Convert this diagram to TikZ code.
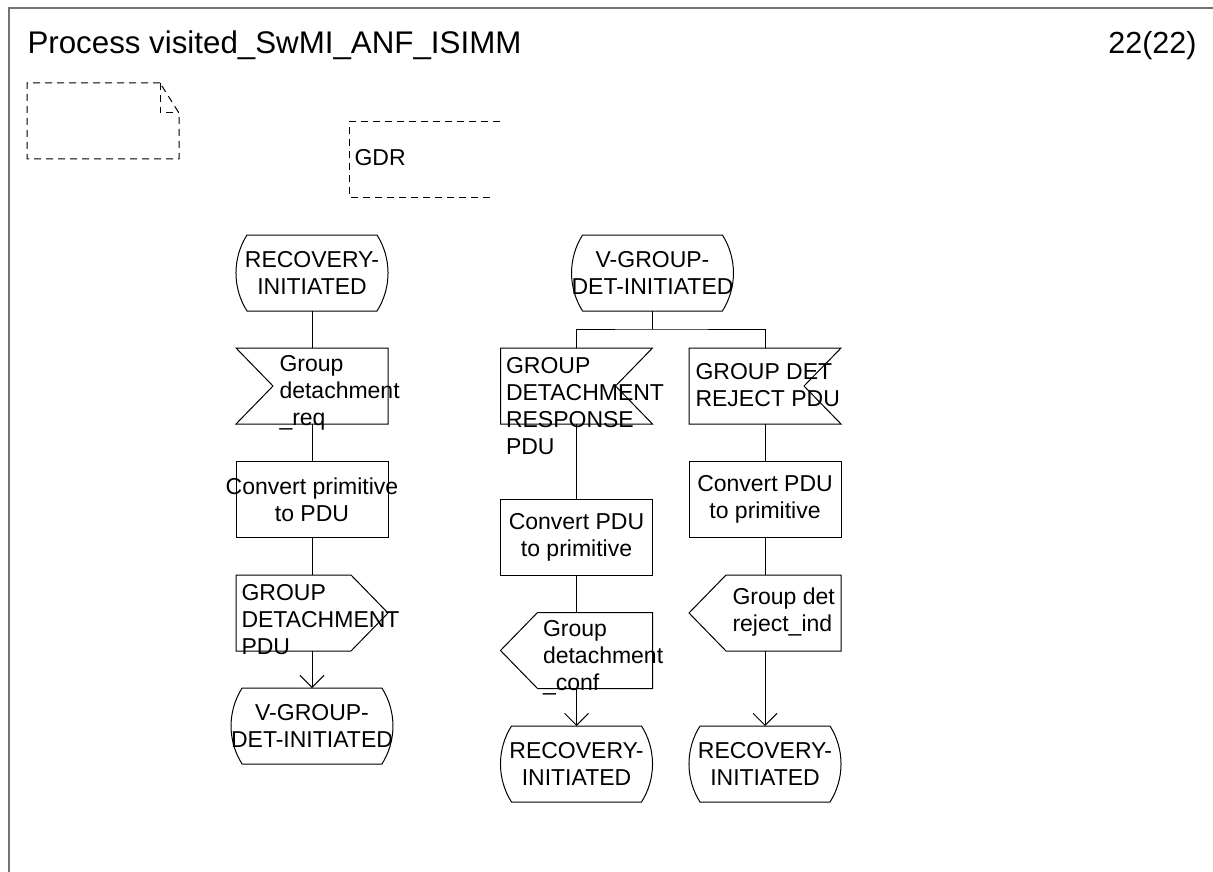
\documentclass[tikz,border=0pt]{standalone}
\usepackage{fontspec}
\setmainfont{Liberation Sans}
\usetikzlibrary{arrows.meta,calc}
\newcommand\sdlstate[1]{\draw ($(#1.north west)+(11,0)$) -- ($(#1.north east)+(-11,0)$) .. controls +(14.7,23.2) and +(14.7,-23.2) .. ($(#1.south east)+(-11,0)$) -- ($(#1.south west)+(11,0)$) .. controls +(-14.7,-23.2) and +(-14.7,23.2) .. ($(#1.north west)+(11,0)$) -- cycle;}
\newcommand\sdlinleft[1]{\draw (#1.north west) -- (#1.north east) -- (#1.south east) -- (#1.south west) -- ($(#1.west)+(37,0)$) -- cycle;}
\newcommand\sdlinright[1]{\draw (#1.north west) -- (#1.north east) -- ($(#1.east)+(-37,0)$) -- (#1.south east) -- (#1.south west) -- cycle;}
\newcommand\sdloutright[1]{\draw (#1.north west) -- ($(#1.north east)+(-37,0)$) -- (#1.east) -- ($(#1.south east)+(-37,0)$) -- (#1.south west) -- cycle;}
\newcommand\sdloutleft[1]{\draw ($(#1.north west)+(37,0)$) -- (#1.north east) -- (#1.south east) -- ($(#1.south west)+(37,0)$) -- (#1.west) -- cycle;}
\begin{document}
\begin{tikzpicture}[x=1pt,y=-1pt,line width=1pt,
  txt/.style={font=\fontsize{23}{27}\selectfont,align=left,inner sep=0pt},
  ctxt/.style={txt,align=center},
  shp/.style={minimum width=152pt,minimum height=76pt,inner sep=0pt,outer sep=0pt},
  taskbox/.style={shp,draw},
  statebox/.style={shp,ctxt},
  dsh/.style={dash pattern=on 7pt off 5pt},
  arr/.style={-{Straight Barb[length=12pt,width=24pt]}},
  frame/.style={line width=1.6pt,black!55}]
\useasboundingbox (0,0) rectangle (1213,872);
% frame
\draw[frame] (9,872) -- (9,8) -- (1213,8);
\node[anchor=base west,inner sep=0pt,font=\fontsize{31.3}{34}\selectfont] (title) at (27,54) {Process visited\_SwMI\_ANF\_ISIMM};
\node[anchor=base east,inner sep=0pt,font=\fontsize{30.5}{34}\selectfont] (page) at (1197,54) {22(22)};
% text symbol
\draw[dsh] (160,83) -- (27,83) -- (27,159) -- (179,159) -- (179,113) -- (160,83);
\draw[dsh] (160,83) -- (160,113) -- (179,113);
% GDR
\draw[dsh] (500,122) -- (349,122) -- (349,197) -- (494,197);
\node[txt,anchor=base west] (gdr) at (354,166) {GDR};
% column 1
\node[statebox] (s1) at (312,273) {RECOVERY-\\INITIATED};
\node[shp] (in1) at (312,386) {};
\node[taskbox] (t1) at (312,499.5) {};
\node[ctxt] (t1t) at (t1) {Convert primitive\\to PDU};
\node[shp] (o1) at (312,613) {};
\node[statebox] (s2) at (312,726) {V-GROUP-\\DET-INITIATED};
\sdlstate{s1}\sdlinleft{in1}\sdloutright{o1}\sdlstate{s2}
\node[txt,anchor=west] (in1t) at ($(in1.west)+(43,7)$) {Group\\detachment\\\_req};
\node[txt,anchor=west] (o1t) at ($(o1.west)+(5,7)$) {GROUP\\DETACHMENT\\PDU};
\draw (s1.south) -- (in1.north);
\draw (in1.south) -- (t1.north);
\draw (t1.south) -- (o1.north);
\draw[arr] (o1.south) -- (s2.north);
% column 2 and 3
\node[statebox] (vs) at (652.5,273) {V-GROUP-\\DET-INITIATED};
\sdlstate{vs}
\coordinate (j) at (652.5,329);
\node[shp] (in2) at (576.5,386) {};
\node[taskbox] (t2) at (576.5,537) {};
\node[ctxt] (t2t) at (t2) {Convert PDU\\to primitive};
\node[shp] (o2) at (576.5,650.5) {};
\node[statebox] (s3) at (576.5,764) {RECOVERY-\\INITIATED};
\node[shp] (in3) at (765,386) {};
\node[taskbox] (t3) at (765,499.5) {};
\node[ctxt] (t3t) at (t3) {Convert PDU\\to primitive};
\node[shp] (o3) at (765,613) {};
\node[statebox] (s4) at (765,764) {RECOVERY-\\INITIATED};
\sdlinright{in2}\sdloutleft{o2}\sdlstate{s3}
\sdlinright{in3}\sdloutleft{o3}\sdlstate{s4}
\node[txt,anchor=west] (in2t) at ($(in2.west)+(5,20)$) {GROUP\\DETACHMENT\\RESPONSE\\PDU};
\node[txt,anchor=west] (in3t) at ($(in3.west)+(6,-1)$) {GROUP DET\\REJECT PDU};
\node[txt,anchor=west] (o2t) at ($(o2.west)+(42,7.5)$) {Group\\detachment\\\_conf};
\node[txt,anchor=west] (o3t) at ($(o3.west)+(43,-1)$) {Group det\\reject\_ind};
\draw (vs.south) -- (j);
\draw (in2.north) |- (j) -| (in3.north);
\draw (in2.south) -- (t2.north);
\draw (t2.south) -- (o2.north);
\draw[arr] (o2.south) -- (s3.north);
\draw (in3.south) -- (t3.north);
\draw (t3.south) -- (o3.north);
\draw[arr] (o3.south) -- (s4.north);
\end{tikzpicture}
\end{document}
